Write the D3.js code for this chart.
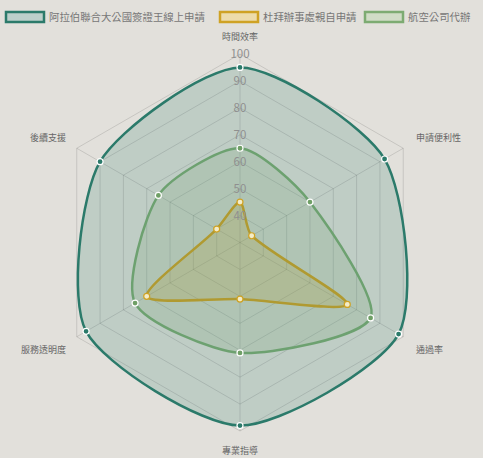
<!DOCTYPE html>
<html><head><meta charset="utf-8">
<script src="https://cdn.jsdelivr.net/npm/d3@7"></script>
<style>
html,body{margin:0;padding:0;background:#e2e0db;}
svg{display:block;font-family:"Noto Sans CJK TC","Noto Sans",sans-serif;}
</style></head>
<body><svg id="c" width="483" height="458"></svg>
<script>
const axes = ["時間效率","申請便利性","通過率","專業指導","服務透明度","後續支援"];
const seriesNames = ["阿拉伯聯合大公國簽證王線上申請","杜拜辦事處親自申請","航空公司代辦"];
const onlineValues = [95, 92, 98, 98, 96, 90];
const dubaiValues = [45, 35, 76, 51, 70, 40];
const airlineValues = [65, 60, 86, 71, 75, 65];
const ticks = [40, 50, 60, 70, 80, 90, 100];
const scaleMin = 30, scaleMax = 100;

const styles = [
  {stroke:"#2b7a6a", fill:"rgba(43,122,106,0.19)", legFill:"#bccfca", ptFill:"#2b7a6a", ptStroke:"#ffffff"},
  {stroke:"#cfa224", fill:"rgba(207,162,36,0.22)", legFill:"#eddcab", ptFill:"#f3ecc8", ptStroke:"#cfa224"},
  {stroke:"#7dab72", fill:"rgba(125,171,114,0.19)", legFill:"#d0dcc6", ptFill:"#6f9f66", ptStroke:"#ffffff"}
];
const data = [onlineValues, dubaiValues, airlineValues];

const svg = d3.select("#c");
const cx = 240, cy = 242.5, R = 188.5;
const r = d3.scaleLinear().domain([scaleMin, scaleMax]).range([0, R]);
const ang = d3.scaleLinear().domain([0, axes.length]).range([-Math.PI/2, 1.5*Math.PI]);
const pt = (i, v) => [cx + r(v)*Math.cos(ang(i)), cy + r(v)*Math.sin(ang(i))];

// grid
const g = svg.append("g");
ticks.forEach(t => {
  const pts = axes.map((a,i) => pt(i,t));
  g.append("path").attr("d", "M" + pts.map(p=>p.join(",")).join("L") + "Z")
    .attr("fill","none").attr("stroke","rgba(0,0,0,0.12)").attr("stroke-width",1);
});
axes.forEach((a,i) => {
  const p = pt(i, scaleMax);
  g.append("line").attr("x1",cx).attr("y1",cy).attr("x2",p[0]).attr("y2",p[1])
    .attr("stroke","rgba(0,0,0,0.12)").attr("stroke-width",1);
});

// spline like Chart.js
function splinePath(pts, t) {
  const n = pts.length;
  const cps = pts.map((p, i) => {
    const a = pts[(i-1+n)%n], b = pts[(i+1)%n];
    const d01 = Math.hypot(p[0]-a[0], p[1]-a[1]);
    const d12 = Math.hypot(b[0]-p[0], b[1]-p[1]);
    let s01 = d01/(d01+d12), s12 = d12/(d01+d12);
    if (isNaN(s01)) s01 = 0; if (isNaN(s12)) s12 = 0;
    const fa = t*s01, fb = t*s12;
    return {prev:[p[0]-fa*(b[0]-a[0]), p[1]-fa*(b[1]-a[1])], next:[p[0]+fb*(b[0]-a[0]), p[1]+fb*(b[1]-a[1])]};
  });
  let d = "M" + pts[0].join(",");
  for (let i = 0; i < n; i++) {
    const j = (i+1)%n;
    d += "C" + cps[i].next.join(",") + " " + cps[j].prev.join(",") + " " + pts[j].join(",");
  }
  return d + "Z";
}

const tension = 0.25;
for (let k = data.length-1; k >= 0; k--) {
  const pts = data[k].map((v,i) => pt(i,v));
  svg.append("path").attr("d", splinePath(pts, tension))
    .attr("fill", styles[k].fill).attr("stroke", styles[k].stroke).attr("stroke-width", 2.5);
}
for (let k = data.length-1; k >= 0; k--) {
  data[k].forEach((v,i) => {
    const p = pt(i,v);
    svg.append("circle").attr("cx",p[0]).attr("cy",p[1]).attr("r",3)
      .attr("fill",styles[k].ptFill).attr("stroke",styles[k].ptStroke).attr("stroke-width",1.2);
  });
}

// tick labels
ticks.forEach(t => {
  svg.append("text").attr("x", cx).attr("y", cy - r(t)).attr("dy","0.35em")
    .attr("text-anchor","middle").attr("font-size",11.5).attr("fill","#8f8f8f").text(t);
});

// point labels
const labelPos = [
  {x:240, y:37, anchor:"middle"},
  {x:416, y:138, anchor:"start"},
  {x:416, y:350, anchor:"start"},
  {x:240, y:451, anchor:"middle"},
  {x:66, y:350, anchor:"end"},
  {x:66, y:138, anchor:"end"}
];
axes.forEach((a,i) => {
  svg.append("text").attr("x", labelPos[i].x).attr("y", labelPos[i].y).attr("dy","0.35em")
    .attr("text-anchor", labelPos[i].anchor).attr("font-size",9).attr("fill","#666").text(a);
});

// legend
const legX = [5, 219, 364];
seriesNames.forEach((s,k) => {
  svg.append("rect").attr("x", legX[k]+1).attr("y", 12).attr("width", 38).attr("height", 10)
    .attr("fill", styles[k].legFill).attr("stroke", styles[k].stroke).attr("stroke-width", 2.5);
  svg.append("text").attr("x", legX[k]+44).attr("y", 17).attr("dy","0.35em")
    .attr("font-size", 10.4).attr("fill","#777").text(s);
});
</script></body></html>
